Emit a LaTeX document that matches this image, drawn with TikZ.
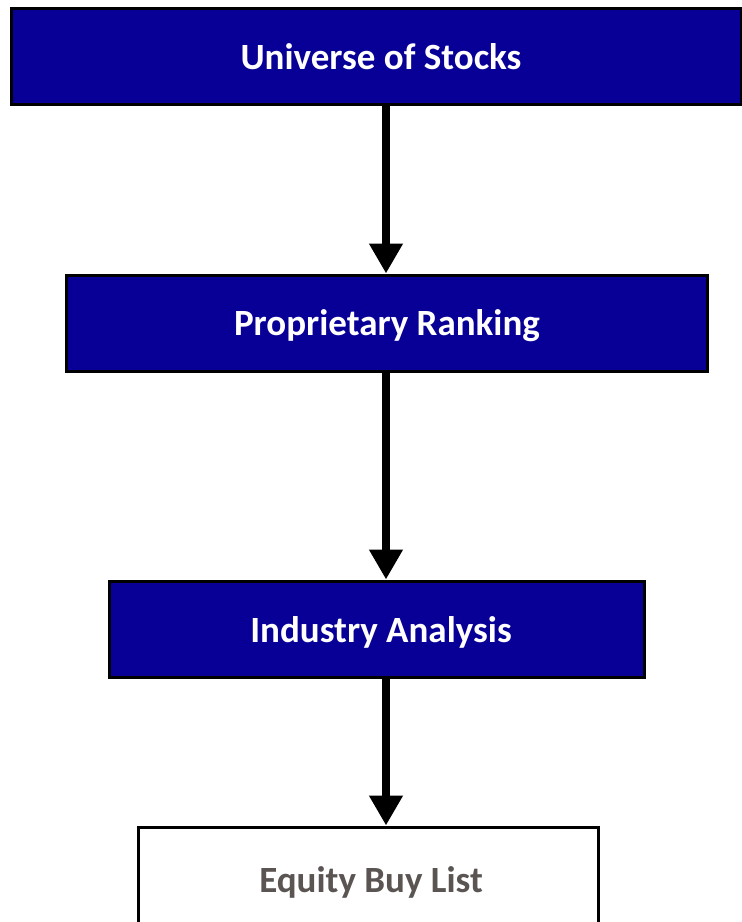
\documentclass[tikz,border=0pt]{standalone}
\usepackage{fontspec}
\setmainfont{Carlito}
\usetikzlibrary{arrows.meta,calc}
\definecolor{boxblue}{RGB}{8,0,150}
\definecolor{listgrey}{RGB}{90,85,82}

\begin{document}
\begin{tikzpicture}[x=1pt, y=-1pt, >={Triangle[width=32pt,length=30pt]},
  stage/.style={draw=black, line width=3pt, fill=boxblue, inner sep=0pt, minimum height=96pt},
  result/.style={draw=black, line width=3pt, fill=white, inner sep=0pt},
  stagetext/.style={text=white, font=\bfseries\fontsize{37}{44}\selectfont},
  resulttext/.style={text=listgrey, font=\bfseries\fontsize{37}{44}\selectfont},
  flow/.style={->, line width=8pt, black}]
\clip (0,0) rectangle (742,922);
\useasboundingbox (0,0) rectangle (742,922);

\node[stage, minimum width=730pt] (universe) at (376,56) {};
\node[stagetext] (universe-label) at (381,57) {Universe of Stocks};

\node[stage, minimum width=641pt] (ranking) at (386.5,323) {};
\node[stagetext] (ranking-label) at (387,326) {Proprietary Ranking};

\node[stage, minimum width=535pt] (industry) at (376.5,629) {};
\node[stagetext] (industry-label) at (381,632) {Industry Analysis};

\node[result, minimum width=460pt, minimum height=130pt] (buylist) at (368,892) {};
\node[resulttext] (buylist-label) at (371,882) {Equity Buy List};

\coordinate (axis) at (386,0);
\draw[flow] (universe.south -| axis) -- (ranking.north -| axis);
\draw[flow] (ranking.south -| axis) -- (industry.north -| axis);
\draw[flow] (industry.south -| axis) -- (buylist.north -| axis);

\end{tikzpicture}
\end{document}
